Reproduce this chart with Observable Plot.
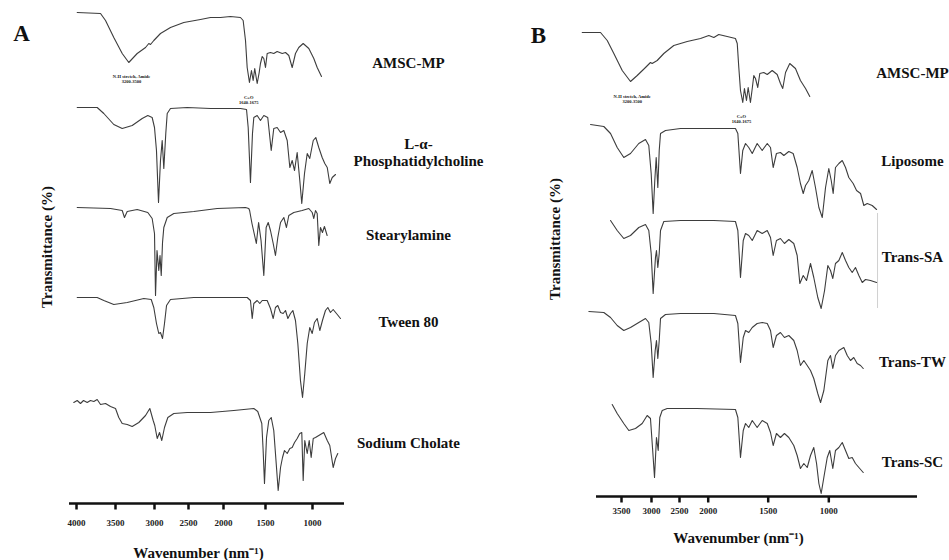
<!DOCTYPE html>
<html><head><meta charset="utf-8">
<script src="https://cdn.jsdelivr.net/npm/d3@7"></script>
<script src="https://cdn.jsdelivr.net/npm/@observablehq/plot@0.6"></script>
<style>
html,body{margin:0;padding:0;background:#fff;}
#wrap{position:relative;width:949px;height:560px;overflow:hidden;background:#fff;}
</style></head><body><div id="wrap"></div>
<script>
// ---------- tick labels / categories ----------
const ticksA = [4000,3500,3000,2500,2000,1500,1000];
const ticksB = [3500,3000,2500,2000,1500,1000];
// where each tick sits along the (non-linear, hand-drawn) axis, as a fraction of the axis length
const tickFracA = [0.0255,0.1673,0.3091,0.4327,0.5600,0.7127,0.8836];
const tickFracB = [0.0779,0.1713,0.2586,0.3480,0.5349,0.7237];
const namesA = ["AMSC-MP","L-α-\nPhosphatidylcholine","Stearylamine","Tween 80","Sodium Cholate"];
const namesB = ["AMSC-MP","Liposome","Trans-SA","Trans-TW","Trans-SC"];
// stacking offsets (a.u.) and label anchors
const offsetsA = [491,396,296,206,101];
const offsetsB = [464,372,276,185,88];
const labelYA = [440,351.5,268,181,60];
const labelYB = [423,335,239,134,34];

// ---------- Panel A spectra: wavenumber (cm-1) and band depth (a.u.) ----------
const amscA_wn = [3991,3692,3628,3522,3414,3330,3222,3115,3073,3051,3009,2912,2765,2569,2329,2186,2043,1917,1798,1766,1738,1718,1691,1667,1647,1628,1599,1575,1560,1539,1520,1500,1482,1447,1412,1376,1322,1287,1252,1216,1181,1146,1099,1039,986,950,904];
const amscA_d  = [0,1,8,25,41,50,41,35,31,32,28,21,15,10,7,5,5,4,5,8,28,55,70,58,68,56,71,60,51,44,46,55,41,40,41,39,41,40,43,55,41,35,31,36,46,55,64];
const pcA_wn = [3991,3735,3650,3522,3414,3286,3158,3086,3030,3000,2971,2941,2912,2887,2863,2834,2813,2765,2519,2186,1798,1726,1706,1679,1655,1639,1599,1560,1520,1476,1439,1412,1376,1340,1305,1269,1241,1216,1191,1163,1135,1114,1085,1056,1029,992,965,933,897,869,843,816,790,755];
const pcA_d  = [0,0,6,17,21,18,11,8,10,20,43,95,53,33,61,26,6,1,0,1,1,2,20,75,26,10,8,13,8,10,43,21,20,25,23,33,60,53,63,45,73,96,66,46,51,33,30,40,50,56,60,76,70,67];
const saA_wn = [3991,3564,3414,3385,3350,3222,3086,3030,3000,2985,2963,2937,2919,2901,2882,2863,2813,2716,2424,2090,1738,1699,1689,1661,1609,1582,1553,1520,1493,1471,1447,1418,1394,1369,1340,1305,1277,1252,1199,1110,1039,1003,986,968,950,933,915,894,873,844];
const saA_d  = [0,1,3,10,4,2,5,11,26,88,43,63,48,68,35,20,10,6,4,1,0,1,3,16,36,15,33,68,20,15,23,36,48,30,15,10,20,8,5,3,1,5,11,3,6,38,20,25,19,28];
const twA_wn = [3991,3735,3650,3522,3350,3137,3042,3009,2971,2937,2912,2882,2853,2823,2765,2424,1718,1679,1658,1639,1599,1568,1539,1482,1447,1418,1394,1369,1340,1312,1287,1262,1234,1209,1181,1156,1128,1106,1082,1056,1029,1003,979,950,922,894,862,837,809,780,745,702];
const twA_d  = [0,0,3,7,5,1,2,10,26,36,35,41,26,8,2,0,0,3,21,6,3,6,3,3,11,21,10,8,15,16,13,21,16,13,23,46,83,100,76,46,30,36,25,21,33,23,13,10,15,12,16,21];
const scA_wn = [4035,3991,3949,3910,3863,3821,3778,3735,3692,3628,3564,3500,3458,3414,3350,3286,3201,3115,3060,3017,2996,2960,2926,2893,2853,2804,2716,2519,2186,1877,1639,1592,1568,1544,1528,1512,1489,1465,1439,1412,1386,1365,1340,1319,1298,1269,1241,1216,1191,1163,1135,1114,1099,1082,1056,1035,1014,992,968,933,880,843,816,780,755,731];
const scA_d  = [0,-2,1,-2,0,-2,-1,-3,2,1,4,6,15,21,22,24,20,13,6,18,23,36,30,38,25,15,11,10,10,8,6,9,15,21,48,81,35,18,15,28,61,88,65,55,48,51,46,45,40,36,31,30,78,38,51,38,55,36,35,33,30,38,43,65,56,51];

// ---------- Panel B spectra ----------
const amscB_wn = [4155,3850,3738,3628,3488,3350,3238,3100,3017,2988,2898,2780,2602,2366,2134,1995,1953,1912,1842,1773,1758,1745,1731,1712,1698,1681,1667,1648,1633,1620,1606,1587,1570,1537,1508,1467,1426,1399,1380,1357,1322,1275,1234,1192,1157];
const amscB_d  = [0,0,8,21,38,49,43,35,30,31,28,21,13,9,6,3,5,2,4,6,11,35,58,70,56,68,55,70,56,43,46,55,41,40,42,38,42,51,56,40,31,36,48,56,64];
const lipB_wn = [4017,3795,3683,3572,3462,3350,3212,3100,3045,3005,2970,2941,2916,2887,2862,2839,2750,2483,1953,1773,1753,1731,1712,1689,1662,1633,1592,1550,1508,1481,1459,1432,1399,1371,1330,1294,1261,1234,1211,1192,1165,1137,1110,1082,1054,1027,1000,980,964,945,917,889,862,835,799,771,738,711,683,642,606];
const lipB_d  = [0,2,9,23,33,29,19,15,21,49,89,56,33,63,26,9,6,4,4,4,9,49,26,19,23,29,19,26,19,23,43,29,28,31,27,29,43,59,69,61,56,46,63,83,93,63,44,56,69,43,39,36,43,53,59,66,69,81,79,81,85];
const saB_wn = [3683,3572,3462,3350,3212,3100,3045,3005,2970,2929,2911,2887,2862,2839,2780,2483,1953,1773,1753,1731,1708,1689,1662,1633,1592,1550,1508,1481,1459,1432,1399,1366,1330,1289,1261,1239,1211,1184,1151,1124,1091,1063,1035,1008,986,967,945,917,889,862,835,807,780,752,724,697,656,606];
const saB_d  = [0,10,18,15,7,4,10,33,73,37,30,47,33,10,1,0,0,1,10,57,20,13,15,20,10,13,10,17,35,20,18,23,19,23,35,63,55,60,43,57,77,88,70,45,50,58,43,40,32,40,47,52,47,55,62,59,60,62];
const twB_wn = [4045,3795,3683,3572,3462,3350,3212,3100,3045,3005,2970,2934,2911,2887,2862,2839,2750,2483,1953,1773,1753,1731,1708,1689,1662,1633,1592,1550,1508,1481,1459,1432,1399,1366,1330,1289,1261,1234,1206,1178,1151,1124,1091,1068,1041,1008,986,967,945,917,876,848,821,794,766,738,716];
const twB_d  = [0,1,6,14,19,16,11,7,11,32,66,39,29,47,29,7,3,2,2,4,12,51,26,19,21,16,12,11,12,19,36,24,21,26,24,29,39,54,49,54,59,67,82,91,79,49,44,57,44,39,36,44,49,46,52,54,57];
const scB_wn = [3655,3572,3462,3378,3267,3155,3072,3017,2982,2946,2911,2880,2852,2809,2720,2203,1773,1753,1731,1708,1689,1662,1633,1592,1550,1508,1481,1459,1432,1399,1366,1330,1289,1261,1234,1206,1178,1151,1124,1101,1082,1063,1041,1013,992,967,945,917,889,862,835,807,780,752,716];
const scB_d  = [-4,5,15,22,20,15,7,10,39,69,29,42,9,2,0,0,1,9,49,22,15,19,12,19,12,15,24,37,25,29,25,29,37,47,60,55,59,47,39,55,75,85,69,49,42,60,42,39,34,42,50,49,55,59,64];
// faint scan edge beside Trans-SA
const edgeB_wn = [598];
const edgeB_top = [283];
const edgeB_bottom = [188];

// annotation texts
const annoText = ["N-H stretch, Amide\n3200-3500", "C=O\n1640-1675"];
const annoA_wn = [3295, 1699], annoA_y = [424.5, 404];
const annoB_wn = [3322, 1723], annoB_y = [398, 378];

// ---------- build tables ----------
function buildRows(wns, ds, offsets, names) {
  const out = [];
  wns.forEach((w, i) => w.forEach((x, j) => out.push({series: names[i], wn: x, T: offsets[i] - ds[i][j]})));
  return out;
}
const rowsA = buildRows([amscA_wn,pcA_wn,saA_wn,twA_wn,scA_wn],[amscA_d,pcA_d,saA_d,twA_d,scA_d],offsetsA,namesA);
const rowsB = buildRows([amscB_wn,lipB_wn,saB_wn,twB_wn,scB_wn],[amscB_d,lipB_d,saB_d,twB_d,scB_d],offsetsB,namesB);
const labA = namesA.map((n,i)=>({name:n, y:labelYA[i]}));
const labB = namesB.map((n,i)=>({name:n, y:labelYB[i]}));
const annA = annoText.map((t,i)=>({t, wn:annoA_wn[i], y:annoA_y[i]}));
const annB = annoText.map((t,i)=>({t, wn:annoB_wn[i], y:annoB_y[i]}));
const edgeB = edgeB_wn.map((w,i)=>({wn:w, top:edgeB_top[i], bottom:edgeB_bottom[i]}));

// axis calibration: wavenumber -> fraction along the drawn axis (piecewise, extrapolating)
const warpA = d3.scaleLinear().domain(ticksA).range(tickFracA);
const warpB = d3.scaleLinear().domain(ticksB).range(tickFracB);

const SERIF = '"Liberation Serif","Times New Roman",serif';
const INK = "#111";
const LINE = "#3d3d3d";

function panel({width, marginLeft, marginRight, marginBottom, yMax, warp, ticks, rows, labs, labDx, extraLab, extraDx, anns, letter, letterDx, letterDy, yTitleDx, yTitleDy, xTitleDx, xTitleDy, tickLabelDy, extra}) {
  return Plot.plot({
    width, height: 560,
    marginLeft, marginRight, marginTop: 0, marginBottom,
    style: {fontFamily: SERIF, fontSize: "9px", fontWeight: "bold", background: "transparent", color: INK},
    x: {type: "linear", transform: warp, domain: [0, 1], axis: null},
    y: {domain: [0, yMax], axis: null},
    marks: [
      Plot.ruleY([0], {stroke: INK, strokeWidth: 2.5}),
      Plot.ruleX(ticks, {x: d => d, y1: 0, y2: -6.5, stroke: INK, strokeWidth: 2.5}),
      Plot.text(ticks, {x: d => d, y: 0, dy: tickLabelDy, text: d => String(d), lineAnchor: "middle", fontSize: 9, fontWeight: "bold", fontFamily: SERIF, fill: "#222"}),
      ...(extra || []),
      Plot.line(rows, {x: "wn", y: "T", z: "series", stroke: LINE, strokeWidth: 1.1}),
      Plot.text(labs, {y: "y", text: "name", frameAnchor: "right", textAnchor: "middle", dx: labDx, lineAnchor: "middle", fontSize: 15, fontWeight: "bold", fontFamily: SERIF, fill: INK}),
      ...(extraLab ? [Plot.text(extraLab, {y: "y", text: "name", frameAnchor: "right", textAnchor: "middle", dx: extraDx, lineAnchor: "middle", lineHeight: 1.13, fontSize: 15, fontWeight: "bold", fontFamily: SERIF, fill: INK})] : []),
      Plot.text(anns, {x: "wn", y: "y", text: "t", fontSize: 4.5, fontWeight: "bold", lineHeight: 1.1, fill: INK}),
      Plot.text([letter], {text: d => d, frameAnchor: "top-left", dx: letterDx, dy: letterDy, textAnchor: "middle", lineAnchor: "middle", fontSize: 23, fontWeight: "bold", fontFamily: SERIF, fill: INK}),
      Plot.text(["Transmittance (%)"], {text: d => d, frameAnchor: "left", rotate: -90, textAnchor: "middle", lineAnchor: "middle", dx: yTitleDx, dy: yTitleDy, fontSize: 15, fontWeight: "bold", fontFamily: SERIF, fill: INK}),
      Plot.text(["Wavenumber (nm⁻¹)"], {text: d => d, frameAnchor: "bottom", textAnchor: "middle", lineAnchor: "middle", dx: xTitleDx, dy: xTitleDy, fontSize: 15, fontWeight: "bold", fontFamily: SERIF, fill: INK})
    ]
  });
}

const plotA = panel({
  width: 490, marginLeft: 69, marginRight: 146, marginBottom: 57, yMax: 503,
  warp: warpA, ticks: ticksA, rows: rowsA,
  labs: labA.filter((d,i)=>i!==1), labDx: 64, extraLab: labA.filter((d,i)=>i===1), extraDx: 74,
  anns: annA, letter: "A", letterDx: -48, letterDy: 33,
  yTitleDx: -22, yTitleDy: -5, xTitleDx: -8.5, xTitleDy: 50, tickLabelDy: 20
});

const plotB = panel({
  width: 474, marginLeft: 121, marginRight: 32, marginBottom: 64, yMax: 496,
  warp: warpB, ticks: ticksB, rows: rowsB,
  labs: labB, labDx: -5, extraLab: null,
  anns: annB, letter: "B", letterDx: -58, letterDy: 35,
  yTitleDx: -41, yTitleDy: -9.5, xTitleDx: -18.5, xTitleDy: 42, tickLabelDy: 15,
  extra: [Plot.ruleX(edgeB, {x: "wn", y1: "top", y2: "bottom", stroke: "#d0d0d0", strokeWidth: 1})]
});

const wrap = document.getElementById("wrap");
plotA.style.position = "absolute"; plotA.style.left = "0px"; plotA.style.top = "0px";
plotB.style.position = "absolute"; plotB.style.left = "475px"; plotB.style.top = "0px";
wrap.appendChild(plotA);
wrap.appendChild(plotB);
</script></body></html>
